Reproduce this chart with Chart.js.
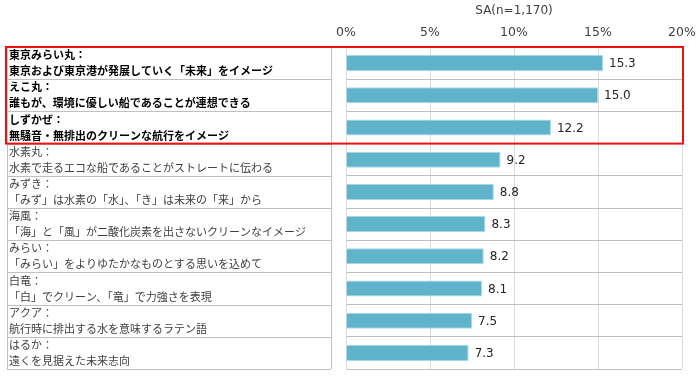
<!DOCTYPE html>
<html>
<head>
<meta charset="utf-8">
<script src="https://cdn.jsdelivr.net/npm/chart.js@4/dist/chart.umd.min.js"></script>
<style>
html,body{margin:0;padding:0;background:#fff;}
#wrap{width:700px;height:378px;position:relative;}
</style>
</head>
<body>
<div id="wrap"><canvas id="c" width="700" height="378"></canvas></div>
<script>
const names = ["東京みらい丸：","えこ丸：","しずかぜ：","水素丸：","みずき：","海風：","みらい：","白竜：","アクア：","はるか："];
const descriptions = [
  "東京および東京港が発展していく「未来」をイメージ",
  "誰もが、環境に優しい船であることが連想できる",
  "無騒音・無排出のクリーンな航行をイメージ",
  "水素で走るエコな船であることがストレートに伝わる",
  "「みず」は水素の「水」、「き」は未来の「来」から",
  "「海」と「風」が二酸化炭素を出さないクリーンなイメージ",
  "「みらい」をよりゆたかなものとする思いを込めて",
  "「白」でクリーン、「竜」で力強さを表現",
  "航行時に排出する水を意味するラテン語",
  "遠くを見据えた未来志向"
];
const values = [15.3,15.0,12.2,9.2,8.8,8.3,8.2,8.1,7.5,7.3];
const highlighted = [0,1,2];
const axisTitle = "SA(n=1,170)";

const tablePlugin = {
  id: 'tablePlugin',
  afterDraw(chart) {
    const ctx = chart.ctx;
    const y = chart.scales.y;
    const n = names.length;
    const rowH = (y.bottom - y.top) / n;
    const xL = 7, xR = 331;
    ctx.save();
    ctx.strokeStyle = '#c0c0c0';
    ctx.lineWidth = 1;
    for (let i = 0; i <= n; i++) {
      const yy = Math.round(y.top + i * rowH) + 0.5;
      ctx.beginPath(); ctx.moveTo(xL, yy); ctx.lineTo(xR, yy); ctx.stroke();
    }
    ctx.beginPath(); ctx.moveTo(xL + 0.5, y.top); ctx.lineTo(xL + 0.5, y.bottom); ctx.stroke();
    ctx.beginPath(); ctx.moveTo(xR + 0.5, y.top); ctx.lineTo(xR + 0.5, y.bottom); ctx.stroke();
    ctx.textBaseline = 'middle';
    ctx.textAlign = 'left';
    for (let i = 0; i < n; i++) {
      const c = y.getPixelForValue(i);
      const bold = highlighted.includes(i);
      ctx.font = (bold ? 'bold ' : '') + '11px "Noto Sans CJK JP"';
      ctx.fillStyle = bold ? '#000' : '#404040';
      ctx.fillText(names[i], 9, c - 8);
      ctx.fillText(descriptions[i], 9, c + 8);
    }
    const meta = chart.getDatasetMeta(0);
    ctx.font = '12px "DejaVu Sans"';
    ctx.fillStyle = '#262626';
    meta.data.forEach((bar, i) => {
      ctx.fillText(values[i].toFixed(1), bar.x + 6, bar.y + 1);
    });
    const top = y.top, bot = y.top + highlighted.length * rowH;
    ctx.strokeStyle = '#ee1111';
    ctx.lineWidth = 2;
    ctx.strokeRect(6, top, chart.chartArea.right + 1 - 6, bot - top);
    ctx.restore();
  }
};

new Chart(document.getElementById('c'), {
  type: 'bar',
  data: {
    labels: names,
    datasets: [{
      data: values,
      backgroundColor: '#5fb4cc',
      borderColor: '#a6d9e7',
      borderWidth: 1,
      categoryPercentage: 1,
      barPercentage: 0.5
    }]
  },
  options: {
    indexAxis: 'y',
    responsive: false,
    animation: false,
    layout: { padding: { left: 346, right: 18, top: 0, bottom: 9 } },
    plugins: { legend: { display: false }, tooltip: { enabled: false } },
    scales: {
      x: {
        position: 'top',
        min: 0, max: 20,
        ticks: {
          stepSize: 5,
          callback: v => v + '%',
          font: { family: 'DejaVu Sans', size: 12.5 },
          color: '#404040',
          padding: 7
        },
        grid: { color: '#dcdcdc', drawTicks: false },
        border: { display: false },
        title: {
          display: true,
          text: axisTitle,
          font: { family: 'DejaVu Sans', size: 12 },
          color: '#404040',
          padding: { top: 4, bottom: 2 }
        },
        afterFit: s => { s.height = 47; s.paddingLeft = 0; s.paddingRight = 0; }
      },
      y: {
        ticks: { display: false },
        grid: { color: '#c0c0c0', drawTicks: false, offset: true },
        border: { display: true, color: '#dcdcdc' },
        afterFit: s => { s.width = 0; }
      }
    }
  },
  plugins: [tablePlugin]
});
</script>
</body>
</html>
